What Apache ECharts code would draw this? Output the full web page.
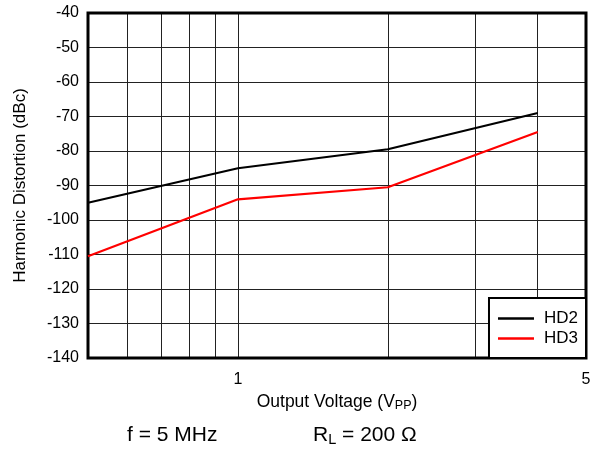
<!DOCTYPE html>
<html>
<head>
<meta charset="utf-8">
<script src="https://cdn.jsdelivr.net/npm/echarts@6/dist/echarts.min.js"></script>
<style>
  html, body { margin: 0; padding: 0; background: #fff; }
  #chart { width: 602px; height: 450px; }
</style>
</head>
<body>
<div id="chart"></div>
<script>
// output voltage (Vpp)
var voltage = [0.5, 1, 2, 4]
var hd2 = [-95, -85, -79.5, -69]
var hd3 = [-110.5, -94, -90.5, -74.5]

// grid lines of the log axis and the labels shown
var xGrid = [0.5, 0.6, 0.7, 0.8, 0.9, 1, 2, 3, 4, 5]
var xLabels = [1, 5]

var font = 'Liberation Sans, Arial, sans-serif'

function pairs(xs, ys) {
  var out = []
  for (var i = 0; i < xs.length; i++) {
    out.push([xs[i], ys[i]])
  }
  return out
}

var chart = echarts.init(document.getElementById('chart'), null, { renderer: 'canvas' })

var option = {
  animation: false,
  textStyle: { fontFamily: font },
  grid: {
    left: 88,
    right: 16,
    top: 13,
    bottom: 92,
    show: true,
    borderColor: '#000',
    borderWidth: 3,
    z: 3
  },
  xAxis: {
    type: 'log',
    logBase: 10,
    min: 0.5,
    max: 5,
    name: '{n|Output Voltage (V}{s|PP}{n|)}',
    nameLocation: 'middle',
    nameGap: 30,
    nameTextStyle: {
      rich: {
        n: { fontSize: 17.5, color: '#000', fontFamily: font },
        s: { fontSize: 12.5, color: '#000', fontFamily: font, verticalAlign: 'bottom', padding: [7, 0, 0, 0] }
      }
    },
    axisLine: { show: false },
    axisTick: { show: false, customValues: xGrid },
    axisLabel: {
      customValues: xLabels,
      color: '#000',
      fontSize: 16,
      margin: 14
    },
    splitLine: { show: true, lineStyle: { color: '#222', width: 1 } }
  },
  yAxis: {
    type: 'value',
    min: -140,
    max: -40,
    interval: 10,
    name: 'Harmonic Distortion (dBc)',
    nameLocation: 'middle',
    nameGap: 59,
    nameTextStyle: { fontSize: 17, color: '#000' },
    axisLine: { show: false },
    axisTick: { show: false },
    axisLabel: { color: '#000', fontSize: 16, margin: 9 },
    splitLine: { show: true, lineStyle: { color: '#222', width: 1 } }
  },
  legend: {
    orient: 'vertical',
    right: 16,
    bottom: 92,
    backgroundColor: '#fff',
    borderColor: '#000',
    borderWidth: 2,
    borderRadius: 0,
    padding: [12, 8, 11, 9],
    icon: 'rect',
    itemWidth: 36,
    itemHeight: 2.5,
    itemGap: 3,
    textStyle: { fontSize: 17, color: '#000', padding: [0, 0, 0, 5] },
    data: ['HD2', 'HD3'],
    z: 10
  },
  series: [
    {
      name: 'HD2',
      type: 'line',
      symbol: 'none',
      data: pairs(voltage, hd2),
      lineStyle: { color: '#000', width: 2.2 },
      itemStyle: { color: '#000' }
    },
    {
      name: 'HD3',
      type: 'line',
      symbol: 'none',
      data: pairs(voltage, hd3),
      lineStyle: { color: '#ff0000', width: 2.2 },
      itemStyle: { color: '#ff0000' }
    }
  ],
  graphic: [
    {
      type: 'text',
      left: 127,
      top: 425,
      style: { text: 'f = 5 MHz', font: '21px ' + font, fill: '#000' }
    },
    {
      type: 'text',
      left: 313,
      top: 425,
      style: {
        text: '{n|R}{s|L}{n| = 200 Ω}',
        fill: '#000',
        rich: {
          n: { fontSize: 21, fontFamily: font, fill: '#000' },
          s: { fontSize: 14.5, fontFamily: font, fill: '#000', verticalAlign: 'bottom', padding: [9, 0, 0, 0] }
        }
      }
    }
  ]
}

chart.setOption(option)
</script>
</body>
</html>
